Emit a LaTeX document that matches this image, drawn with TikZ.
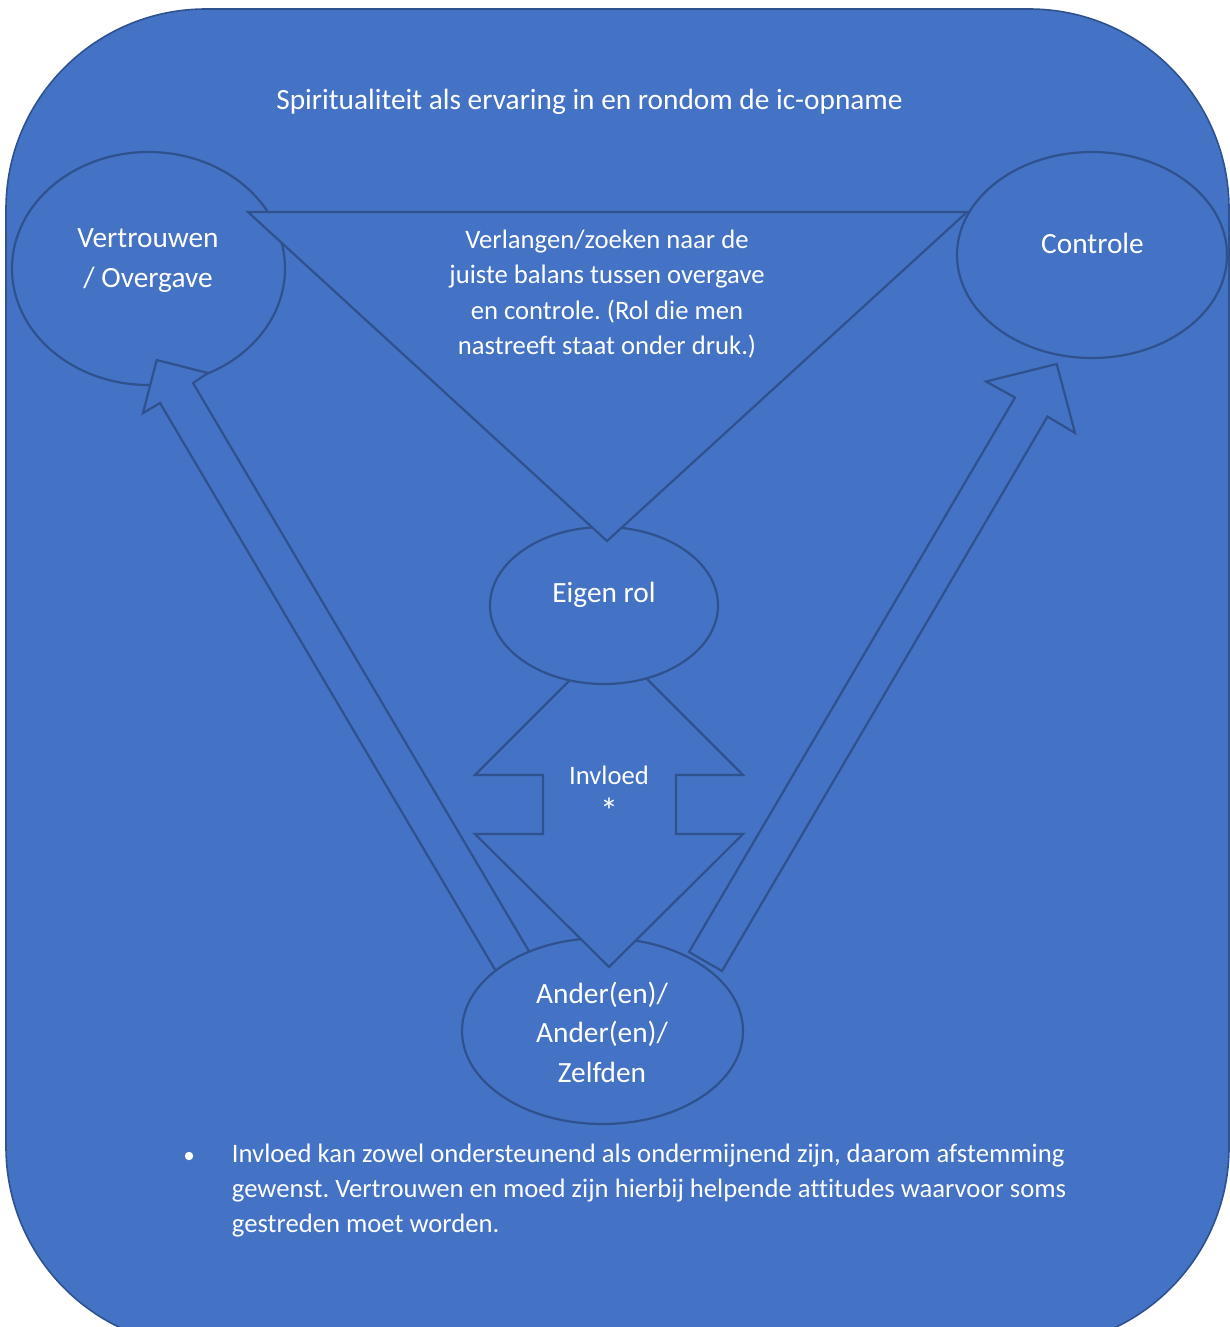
\documentclass[tikz,border=0pt]{standalone}
\usepackage{fontspec}
\setmainfont{Carlito}[Ligatures=CommonOff]
\usepackage{tikz}
\usetikzlibrary{shapes.geometric}
\definecolor{ppblue}{HTML}{4472C4}
\definecolor{ppedge}{HTML}{2F528F}
\frenchspacing

\begin{document}
\begin{tikzpicture}[x=1pt, y=-1pt,
  bubble/.style={
    ellipse, draw=ppedge, fill=ppblue, line width=2.2pt,
    inner sep=0pt, outer sep=0pt},
  block/.style={
    draw=ppedge, fill=ppblue, line width=2.2pt, line join=miter},
  bigtxt/.style={
    text=white, font=\fontsize{29.33}{39.5}\selectfont,
    inner sep=0pt, align=center, anchor=base},
  smalltxt/.style={
    text=white, font=\fontsize{26.67}{35.2}\selectfont,
    inner sep=0pt, align=center, anchor=base},
]
\useasboundingbox (0,0) rectangle (1230,1327);
\clip (0,0) rectangle (1230,1327);
\fill[white] (0,0) rectangle (1230,1327);

%% ---- Background panel ----
\draw[block, line width=1.6pt, rounded corners=200pt] (6,9) rectangle (1229,1347);

%% ---- Outer ellipses ----
\node[bubble, minimum width=273pt, minimum height=233pt] (vertrouwen) at (148.5,268.5) {};
\node[bubble, minimum width=270pt, minimum height=206pt] (controle) at (1092,255) {};

%% ---- Block arrows from Ander(en) ----
\draw[block] (156.7,360) -- (208,373) -- (193,383) -- (558.4,1001)
  -- (524.8,1020) -- (160,403) -- (143,413) -- cycle;
\draw[block] (1056.7,364) -- (1075,433) -- (1047.5,416.5) -- (722,971)
  -- (689,952) -- (1015,397.5) -- (986,381.5) -- cycle;

\node[bubble, minimum width=281pt, minimum height=186pt] (ander) at (602.5,1031) {};

%% ---- Up-down arrow (Invloed) ----
\draw[block] (609,641) -- (743,775) -- (676,775) -- (676,834) -- (743,834)
  -- (609,967) -- (475,834) -- (543,834) -- (543,775) -- (475,775) -- cycle;

\node[bubble, minimum width=228pt, minimum height=157pt] (eigenrol) at (604,605.5) {};

%% ---- Balance triangle ----
\draw[block] (248,212) -- (967,212) -- (607,541) -- cycle;

%% ---- Texts (base = baseline of last line) ----
\node[bigtxt] (titel) at (589.5,110) {Spiritualiteit als ervaring in en rondom de ic-opname};
\node[bigtxt] (vertrouwen-txt) at (148,287) {Vertrouwen\\/ Overgave};
\node[bigtxt] (controle-txt) at (1092.5,253) {Controle};
\node[smalltxt] (balans-txt) at (607,354.3) {%
  Verlangen/zoeken naar de\\
  juiste balans tussen overgave\\
  en controle. (Rol die men\\
  nastreeft staat onder druk.)};
\node[bigtxt] (eigenrol-txt) at (604,602.7) {Eigen rol};
\node[smalltxt] (invloed-txt) at (609,820) {Invloed\\{\fontsize{36}{35.2}\selectfont\raisebox{-3pt}{*}}};
\node[bigtxt] (ander-txt) at (602,1082) {Ander(en)/\\Ander(en)/\\Zelfden};

%% ---- Footnote ----
\node[circle, fill=white, minimum size=8.4pt, inner sep=0pt] (bullet) at (189,1156) {};
\node[smalltxt, align=left, anchor=base west] (noot) at (231.7,1232.7) {%
  Invloed kan zowel ondersteunend als ondermijnend zijn, daarom afstemming\\
  gewenst. Vertrouwen en moed zijn hierbij helpende attitudes waarvoor soms\\
  gestreden moet worden.};

\end{tikzpicture}
\end{document}
